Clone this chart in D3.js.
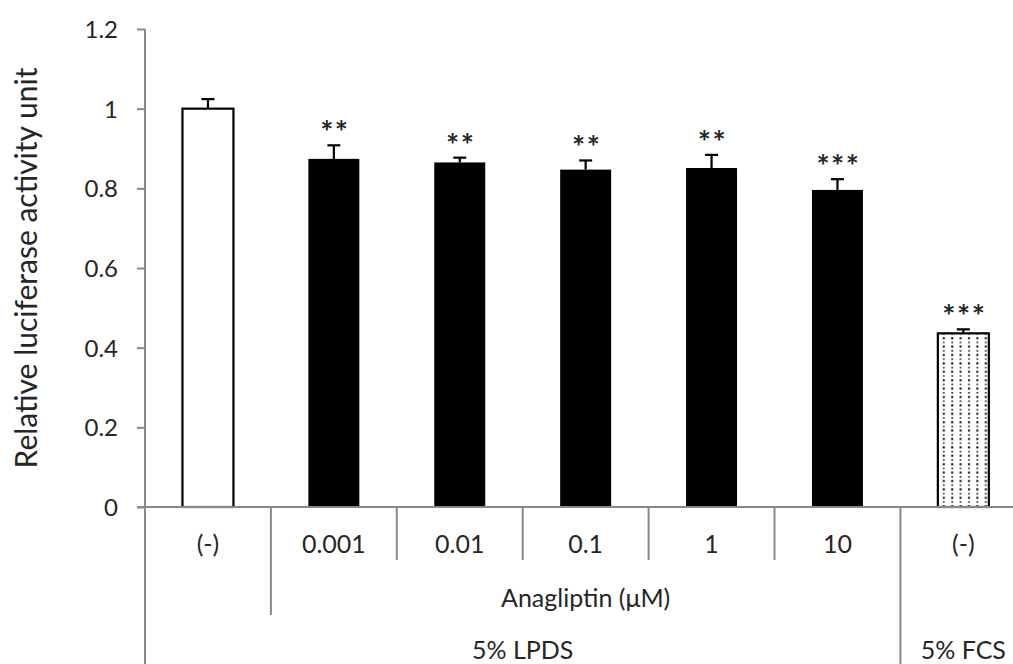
<!DOCTYPE html>
<meta charset="utf-8">
<style>
  body { margin: 0; background: #fff; }
  text { font-family: Lato, "Open Sans", sans-serif; fill: #262626; }
</style>

<!-- Load d3.js -->
<script src="https://d3js.org/d3.v7.min.js"></script>

<!-- Create a div where the graph will take place -->
<div id="my_dataviz"></div>

<script>

// data
var categories = ["(-)", "0.001", "0.01", "0.1", "1", "10", "(-)"];
var values     = [1.000, 0.874, 0.865, 0.847, 0.851, 0.796, 0.436];
var errors     = [0.024, 0.034, 0.012, 0.023, 0.033, 0.027, 0.010];
var stars      = ["", "**", "**", "**", "**", "***", "***"];
var fills      = ["open", "solid", "solid", "solid", "solid", "solid", "dotted"];
var yTicks     = [0, 0.2, 0.4, 0.6, 0.8, 1, 1.2];

// second and third label rows: [label, first category, last category]
var drugGroups  = [["Anagliptin (\u03bcM)", 1, 5]];
var serumGroups = [["5% LPDS", 0, 5], ["5% FCS", 6, 6]];

var width = 1013, height = 664;
var axisColor = "#898989";

var svg = d3.select("#my_dataviz")
  .append("svg")
    .attr("width", width)
    .attr("height", height);

// dotted fill for the FCS bar
var pat = svg.append("defs").append("pattern")
    .attr("id", "dots")
    .attr("patternUnits", "userSpaceOnUse")
    .attr("width", 8.4)
    .attr("height", 8.4);
pat.append("rect").attr("width", 8.4).attr("height", 8.4).attr("fill", "#fff");
pat.append("rect").attr("x", 2).attr("y", 1.2).attr("width", 2).attr("height", 2).attr("fill", "#000");
pat.append("rect").attr("x", 2.2).attr("y", 5.6).attr("width", 1.6).attr("height", 1.6).attr("fill", "#222");

// scales
var y = d3.scaleLinear()
  .domain([0, 1.2])
  .range([507, 29]);

var x = d3.scaleBand()
  .domain(d3.range(categories.length))
  .range([145, 1026.3])
  .paddingInner(0.595)
  .paddingOuter(0.2975);

var step = x.step();
var x0 = x(0) - x.step() * x.paddingOuter();   // left edge of first cell
function cellLeft(i) { return x0 + i * step; }

// Y axis
var yAxis = svg.append("g")
  .attr("transform", "translate(145,0)")
  .call(d3.axisLeft(y).tickValues(yTicks).tickSize(8).tickSizeOuter(0)
    .tickFormat(function(d) { return d3.format("")(+d.toFixed(1)); }));
yAxis.select(".domain").remove();
yAxis.selectAll(".tick line").attr("stroke", axisColor).attr("stroke-width", 2);
yAxis.selectAll(".tick text")
  .attr("x", -27)
  .attr("dy", "0.36em")
  .style("font-size", "24px")
  .style("font-family", "Lato, sans-serif")
  .attr("fill", "#262626");

// vertical axis line runs down through the label table
svg.append("line")
  .attr("x1", 145).attr("x2", 145)
  .attr("y1", y(1.2)).attr("y2", height)
  .attr("stroke", axisColor).attr("stroke-width", 2);

// bars
svg.selectAll(".bar")
  .data(values)
  .enter()
  .append("rect")
    .attr("class", "bar")
    .attr("x", function(d, i) { return x(i); })
    .attr("y", function(d) { return y(d); })
    .attr("width", x.bandwidth())
    .attr("height", function(d) { return y(0) - y(d); })
    .attr("fill", function(d, i) {
      return fills[i] == "solid" ? "#000" : fills[i] == "dotted" ? "url(#dots)" : "#fff";
    })
    .attr("stroke", "#000")
    .attr("stroke-width", function(d, i) { return fills[i] == "solid" ? 0 : 2.2; });

// error bars (upper only)
values.forEach(function(v, i) {
  var cx = x(i) + x.bandwidth() / 2;
  svg.append("line")
    .attr("x1", cx).attr("x2", cx)
    .attr("y1", y(v)).attr("y2", y(v + errors[i]))
    .attr("stroke", "#000").attr("stroke-width", 2.2);
  svg.append("line")
    .attr("x1", cx - 6.5).attr("x2", cx + 6.5)
    .attr("y1", y(v + errors[i])).attr("y2", y(v + errors[i]))
    .attr("stroke", "#000").attr("stroke-width", 2.2);
  if (stars[i]) {
    svg.append("text")
      .attr("x", cx + 1)
      .attr("y", y(v + errors[i]) - 2)
      .attr("text-anchor", "middle")
      .style("font-size", "31px")
      .style("letter-spacing", "1.5px")
      .style("font-weight", "bold")
      .attr("fill", "#333")
      .text(stars[i]);
  }
});

// x axis baseline
svg.append("line")
  .attr("x1", 137).attr("x2", width)
  .attr("y1", y(0)).attr("y2", y(0))
  .attr("stroke", axisColor).attr("stroke-width", 2);

// first label row: concentrations
svg.selectAll(".cat")
  .data(categories)
  .enter()
  .append("text")
    .attr("x", function(d, i) { return x(i) + x.bandwidth() / 2; })
    .attr("y", 553)
    .attr("text-anchor", "middle")
    .style("font-size", "25px")
    .text(function(d) { return d; });

// separators between the concentrations
d3.range(1, categories.length).forEach(function(i) {
  var bottom = 560;
  if (i == 1) bottom = 615;
  if (i == 6) bottom = height;
  svg.append("line")
    .attr("x1", cellLeft(i)).attr("x2", cellLeft(i))
    .attr("y1", y(0)).attr("y2", bottom)
    .attr("stroke", axisColor).attr("stroke-width", 2);
});

// second and third rows
drugGroups.forEach(function(g) {
  svg.append("text")
    .attr("x", (cellLeft(g[1]) + cellLeft(g[2] + 1)) / 2)
    .attr("y", 607)
    .attr("text-anchor", "middle")
    .style("font-size", "25px")
    .text(g[0]);
});
serumGroups.forEach(function(g) {
  svg.append("text")
    .attr("x", (cellLeft(g[1]) + cellLeft(g[2] + 1)) / 2)
    .attr("y", 659)
    .attr("text-anchor", "middle")
    .style("font-size", "25px")
    .text(g[0]);
});

// Y axis title
svg.append("text")
  .attr("transform", "translate(37," + ((y(0) + y(1.2)) / 2) + ") rotate(-90)")
  .attr("text-anchor", "middle")
  .style("font-size", "30px")
  .text("Relative luciferase activity unit");

</script>
